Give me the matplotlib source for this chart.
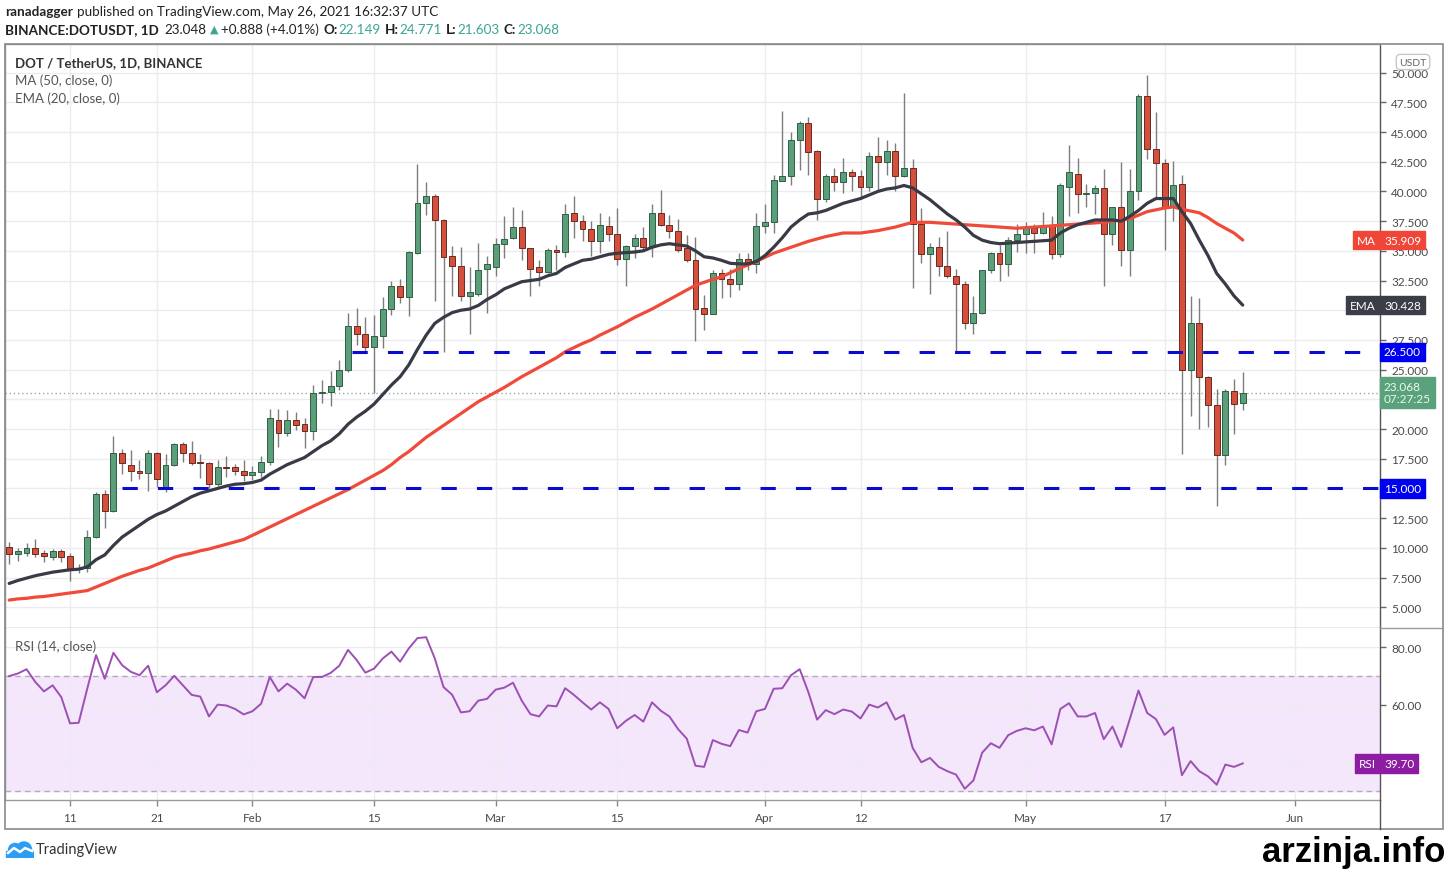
import numpy as np
import pandas as pd
import matplotlib
matplotlib.use("Agg")
import matplotlib.pyplot as plt
import matplotlib.dates as mdates
from matplotlib.patches import Rectangle, Circle
from matplotlib.lines import Line2D
from matplotlib.ticker import FuncFormatter, FixedLocator

plt.rcParams["font.family"] = ["Lato", "DejaVu Sans"]

W, H = 1448, 870

# ---- data (daily DOT/USDT, 2021-01-04 .. 2021-05-26) ----
open_ = [
    10.1, 9.5, 9.6, 10.0, 9.6, 9.2, 9.7, 9.3, 8.2, 8.3, 10.9, 14.5, 13.1, 18.0, 17.0, 16.5, 16.3, 18.0, 15.1, 17.0, 18.7, 18.0, 17.2, 17.1, 15.4, 16.8, 16.8, 16.5,
    16.1, 16.4, 17.2, 20.8, 19.7, 20.8, 20.4, 19.8, 23.0, 23.1, 23.6, 25.0, 28.7, 28.0, 26.9, 27.8, 30.1, 32.0, 31.1, 34.8, 39.0, 39.6, 37.6, 34.6, 33.7, 31.2, 31.4, 33.5,
    33.6, 35.6, 36.1, 37.0, 35.2, 33.6, 33.2, 35.1, 34.9, 38.2, 37.5, 36.8, 35.8, 37.1, 36.4, 34.3, 35.4, 36.1, 35.3, 38.2, 37.2, 36.7, 35.2, 34.2, 30.2, 29.7, 33.1, 32.6, 32.2, 34.3, 33.9,
    37.1, 37.4, 40.9, 41.3, 44.3, 45.8, 43.4, 39.4, 41.3, 40.8, 41.6, 41.3, 40.4, 43.0, 42.5, 43.4, 41.3, 42.0, 37.3, 34.7, 35.3, 33.7, 32.9, 32.2, 28.9, 29.8, 33.4, 34.8, 33.9, 35.9,
    36.4, 36.9, 36.5, 37.2, 34.7, 40.4, 41.5, 39.8, 39.9, 40.3, 36.4, 38.7, 35.1, 40.0, 48.0, 43.6, 42.4, 38.7, 40.6, 25.0, 28.9, 24.4, 22.0, 17.8, 23.2, 22.149,
]
high = [
    10.5, 10.0, 10.4, 10.7, 9.8, 9.9, 9.9, 9.6, 8.6, 11.5, 14.7, 14.9, 19.4, 18.3, 18.2, 17.4, 18.2, 18.1, 17.9, 18.8, 18.9, 19.0, 17.9, 17.2, 17.4, 17.7, 17.05, 17.4,
    16.9, 17.7, 21.7, 21.7, 21.6, 21.4, 20.9, 23.7, 24.1, 24.9, 25.8, 29.8, 30.2, 29.4, 29.6, 31.1, 32.5, 32.6, 35.0, 42.3, 40.8, 39.8, 37.7, 35.4, 35.3, 33.6, 35.7, 34.6,
    36.1, 37.9, 38.7, 38.4, 35.2, 34.2, 35.2, 35.5, 38.9, 39.6, 38.0, 37.5, 38.2, 37.9, 38.6, 35.5, 36.4, 37.0, 38.9, 40.1, 38.0, 37.7, 36.3, 36.2, 31.3, 33.4, 33.5, 33.5, 34.8, 34.8, 38.2,
    38.9, 41.4, 46.8, 45.0, 45.9, 46.3, 43.5, 41.5, 42.0, 42.8, 41.9, 41.8, 43.3, 44.6, 44.3, 44.1, 48.3, 42.7, 38.6, 35.7, 36.2, 36.7, 33.5, 32.5, 31.2, 33.4, 34.9, 35.5, 36.2, 37.3,
    37.4, 37.3, 38.3, 37.9, 40.7, 43.9, 42.8, 40.6, 40.5, 41.9, 38.7, 42.5, 41.9, 48.2, 49.8, 46.7, 42.7, 42.6, 41.4, 31.2, 31.0, 24.5, 23.4, 23.4, 24.2, 24.771,
]
low = [
    8.6, 8.9, 9.3, 9.2, 8.8, 9.0, 8.8, 7.2, 7.9, 8.0, 10.8, 11.7, 13.0, 16.2, 15.6, 15.8, 14.8, 15.1, 14.7, 16.9, 17.2, 17.0, 15.9, 15.0, 15.2, 16.0, 16.1, 15.6,
    15.7, 16.0, 17.0, 18.5, 19.4, 19.9, 18.4, 19.1, 22.2, 21.9, 23.3, 24.8, 27.1, 26.4, 23.0, 26.8, 29.6, 30.6, 29.5, 34.7, 38.0, 30.8, 26.5, 31.2, 30.8, 28.0, 31.2, 29.8,
    32.9, 34.4, 36.0, 34.2, 31.2, 32.0, 33.1, 33.4, 34.5, 36.1, 35.8, 34.6, 34.8, 35.8, 33.8, 32.0, 34.4, 35.1, 34.5, 37.1, 36.1, 34.9, 34.1, 27.4, 28.3, 29.7, 31.0, 31.1, 31.7, 33.4, 33.1,
    36.5, 36.5, 40.9, 40.5, 41.8, 41.4, 37.6, 39.1, 40.0, 39.9, 40.0, 39.4, 40.0, 40.1, 41.4, 40.0, 41.2, 31.9, 34.0, 31.4, 32.9, 32.7, 26.5, 28.4, 28.0, 29.7, 33.1, 32.5, 32.9, 34.9,
    34.8, 34.8, 36.4, 34.3, 34.5, 37.9, 38.2, 38.7, 38.1, 32.0, 35.5, 33.7, 32.9, 39.3, 42.7, 39.4, 35.1, 37.5, 17.9, 21.1, 20.0, 20.2, 13.5, 17.0, 19.6, 21.603,
]
close = [
    9.5, 9.7, 10.0, 9.5, 9.3, 9.7, 9.2, 8.2, 8.3, 10.9, 14.5, 13.1, 18.0, 17.1, 16.5, 16.3, 18.0, 15.8, 17.0, 18.7, 18.0, 17.1, 17.1, 15.4, 16.8, 16.7, 16.5, 16.1,
    16.4, 17.2, 20.9, 19.7, 20.8, 20.3, 19.8, 23.0, 23.1, 23.6, 25.0, 28.7, 28.0, 26.9, 27.8, 30.1, 32.0, 31.1, 34.9, 39.0, 39.6, 37.6, 34.5, 33.7, 31.2, 31.5, 33.4, 33.9,
    35.6, 36.0, 37.0, 35.2, 33.5, 33.2, 35.1, 34.9, 38.1, 37.5, 36.8, 35.8, 37.2, 36.4, 34.3, 35.4, 36.1, 35.3, 38.2, 37.2, 36.7, 35.1, 34.2, 30.1, 29.7, 33.1, 32.6, 32.2, 34.3, 33.9, 37.1,
    37.4, 41.0, 41.3, 44.3, 45.8, 43.3, 39.4, 41.3, 40.8, 41.6, 41.3, 40.4, 43.0, 42.5, 43.4, 41.3, 42.0, 37.3, 34.7, 35.3, 33.7, 32.9, 32.2, 28.9, 29.8, 33.4, 34.8, 33.9, 35.9, 36.4,
    36.9, 36.5, 37.2, 34.7, 40.5, 41.6, 39.8, 39.9, 40.3, 36.4, 38.7, 35.1, 40.0, 48.0, 43.6, 42.4, 38.7, 40.5, 25.0, 28.9, 24.4, 22.0, 17.8, 23.2, 22.1, 23.068,
]
ema20 = [
    7.0, 7.25, 7.45, 7.65, 7.8, 7.95, 8.05, 8.15, 8.2, 8.4, 9.0, 9.4, 10.2, 10.9, 11.4, 11.9, 12.4, 12.8, 13.1, 13.5, 13.9, 14.3, 14.6, 14.8, 15.0, 15.2, 15.35, 15.4,
    15.5, 15.7, 16.2, 16.6, 17.0, 17.3, 17.6, 18.1, 18.6, 19.0, 19.6, 20.4, 21.0, 21.5, 22.1, 22.9, 23.7, 24.4, 25.4, 26.7, 27.9, 28.9, 29.4, 29.8, 30.0, 30.1, 30.4, 30.9,
    31.3, 31.8, 32.1, 32.4, 32.5, 32.6, 32.9, 33.1, 33.6, 33.9, 34.2, 34.3, 34.5, 34.7, 34.8, 34.85, 34.9, 35.0, 35.3, 35.5, 35.6, 35.5, 35.4, 35.0, 34.5, 34.4, 34.2, 33.95, 33.9, 33.9, 34.1,
    34.6, 35.3, 36.1, 37.0, 37.6, 38.1, 38.2, 38.4, 38.7, 39.0, 39.2, 39.4, 39.7, 40.0, 40.2, 40.3, 40.5, 40.3, 39.8, 39.3, 38.7, 38.1, 37.6, 37.0, 36.3, 35.9, 35.7, 35.6, 35.65, 35.7,
    35.75, 35.8, 35.85, 35.9, 36.5, 36.9, 37.2, 37.4, 37.6, 37.6, 37.6, 37.5, 37.9, 38.4, 39.0, 39.4, 39.4, 39.4, 38.3, 37.3, 35.9, 34.6, 33.1, 32.2, 31.2, 30.428,
]
ma50 = [
    5.6, 5.7, 5.75, 5.85, 5.9, 6.0, 6.1, 6.2, 6.3, 6.4, 6.7, 7.0, 7.3, 7.6, 7.85, 8.1, 8.3, 8.6, 8.9, 9.2, 9.4, 9.55, 9.75, 9.9, 10.1, 10.3, 10.5, 10.7,
    11.05, 11.4, 11.75, 12.1, 12.45, 12.8, 13.15, 13.5, 13.85, 14.2, 14.55, 14.9, 15.3, 15.7, 16.1, 16.5, 17.0, 17.6, 18.1, 18.7, 19.3, 19.8, 20.3, 20.8, 21.3, 21.8, 22.3, 22.7,
    23.1, 23.5, 23.95, 24.4, 24.8, 25.2, 25.6, 26.0, 26.5, 26.85, 27.2, 27.5, 27.9, 28.25, 28.6, 29.0, 29.4, 29.75, 30.1, 30.5, 30.9, 31.3, 31.7, 32.1, 32.35, 32.6, 32.8, 33.15, 33.5, 33.8, 34.1,
    34.45, 34.8, 35.05, 35.3, 35.55, 35.8, 36.0, 36.2, 36.35, 36.5, 36.5, 36.5, 36.6, 36.7, 36.85, 37.0, 37.2, 37.4, 37.4, 37.4, 37.35, 37.3, 37.25, 37.2, 37.15, 37.1, 37.05, 37.0, 36.95, 36.9,
    36.95, 37.0, 37.05, 37.1, 37.15, 37.2, 37.25, 37.3, 37.35, 37.4, 37.5, 37.6, 37.7, 38.0, 38.3, 38.45, 38.6, 38.7, 38.5, 38.35, 38.2, 37.8, 37.3, 36.9, 36.5, 35.909,
]
rsi14 = [
    70.0, 70.9, 72.4, 68.0, 64.7, 66.8, 62.7, 53.6, 53.8, 65.8, 77.3, 69.1, 78.1, 73.8, 71.5, 70.3, 73.6, 64.4, 66.8, 70.1, 66.8, 63.5, 62.9, 56.0, 60.1, 59.8, 58.6, 56.7,
    57.8, 60.4, 69.7, 64.7, 67.4, 65.3, 62.3, 69.7, 69.7, 71.1, 73.6, 79.1, 75.6, 71.2, 72.6, 76.1, 78.5, 75.0, 79.6, 83.2, 83.5, 76.1, 66.2, 63.5, 57.4, 57.8, 61.5, 62.1,
    65.3, 66.0, 67.7, 61.5, 56.8, 56.0, 59.8, 59.5, 65.8, 63.5, 60.9, 58.4, 60.9, 58.6, 51.9, 54.5, 56.5, 54.2, 60.9, 58.0, 56.0, 51.6, 48.3, 38.9, 38.5, 47.8, 46.5, 45.7, 51.3, 50.4, 57.8,
    58.6, 65.6, 65.8, 70.3, 72.4, 64.4, 54.9, 58.2, 56.8, 58.4, 57.7, 55.3, 60.1, 59.1, 60.9, 54.9, 56.5, 45.1, 40.1, 41.6, 38.5, 37.0, 35.8, 30.9, 33.8, 43.4, 46.7, 45.1, 49.5, 51.0,
    51.9, 51.2, 52.5, 46.3, 58.6, 60.6, 56.0, 56.0, 57.2, 48.1, 52.5, 45.4, 55.1, 65.0, 57.2, 55.1, 49.6, 52.2, 35.6, 40.5, 37.0, 35.2, 32.3, 39.3, 38.5, 39.70,
]

levels = [26.5, 15.0]
level_start = ["2021-02-12 12:00", "2021-01-17"]
last_price = 23.068
countdown = "07:27:25"

tick_dates = ["2021-01-11", "2021-01-21", "2021-02-01", "2021-02-15", "2021-03-01", "2021-03-15",
              "2021-04-01", "2021-04-12", "2021-05-01", "2021-05-17", "2021-06-01"]
tick_labels = ["11", "21", "Feb", "15", "Mar", "15", "Apr", "12", "May", "17", "Jun"]
# price-scale labels that sit under a tag in the reference
hidden_price_labels = [15.0, 22.5, 30.0]
hidden_rsi_labels = [40]

# ---- colours ----
UP, DOWN = "#5b9f7a", "#d4503d"
UP_EDGE, DOWN_EDGE = "#2f5e45", "#6a2a20"
WICK = "#7d7d7d"
EMA_C, MA_C = "#383b45", "#f04a3a"
LEVEL_C = "#0a0ad0"
RSI_C = "#9c50b4"
GRID = "#ececf0"
TXT = "#4a4a4a"


def fbox(x0, y0, x1, y1):
    return [x0 / W, 1 - y1 / H, (x1 - x0) / W, (y1 - y0) / H]


fig = plt.figure(figsize=(W / 100, H / 100), dpi=100)
ax = fig.add_axes(fbox(5, 45, 1380, 629))
axr = fig.add_axes(fbox(5, 629, 1380, 801), sharex=ax)

o, h, l, c = map(np.asarray, (open_, high, low, close))
dates = pd.date_range("2021-01-04", periods=len(c), freq="D")
xd = mdates.date2num(dates)
up = c >= o

# candles
ax.vlines(xd, l, h, color=WICK, lw=1, zorder=2)
body_lo = np.minimum(o, c)
body_h = np.maximum(np.abs(c - o), 0.08)
ax.bar(xd, body_h, bottom=body_lo, width=0.68,
       color=np.where(up, UP, DOWN), edgecolor=np.where(up, UP_EDGE, DOWN_EDGE),
       linewidth=0.7, zorder=3)

ax.plot(xd, ma50, color=MA_C, lw=2.3, zorder=4, solid_capstyle="round")
ax.plot(xd, ema20, color=EMA_C, lw=2.3, zorder=4, solid_capstyle="round")

ax.axhline(last_price, color="#8fae9e", lw=1, ls=(0, (1, 2)), zorder=1)

x_left, x_right = xd[0] - 0.48, xd[0] + 157.8
for lev, start in zip(levels, level_start):
    s = mdates.date2num(pd.Timestamp(start))
    ax.plot([s, x_right], [lev, lev], color=LEVEL_C, lw=2.2, ls=(0, (5, 6.6)), zorder=5,
            dash_capstyle="butt")

ax.set_xlim(x_left, x_right)
ax.set_ylim(3.25, 52.41)

yt = np.arange(5, 50.01, 2.5)
ax.yaxis.tick_right()
ax.yaxis.set_major_locator(FixedLocator(yt))
ax.yaxis.set_major_formatter(FuncFormatter(
    lambda v, p: "" if any(abs(v - hv) < 1e-6 for hv in hidden_price_labels) else f"{v:.3f}"))
ax.tick_params(axis="y", direction="out", length=4, width=1, color="#666", labelsize=8.5,
               labelcolor=TXT, pad=4)
ax.tick_params(axis="x", length=0, labelbottom=False)
tick_x = mdates.date2num(pd.to_datetime(tick_dates))
ax.xaxis.set_major_locator(FixedLocator(tick_x))
ax.grid(True, color=GRID, lw=1)
ax.set_axisbelow(True)

# RSI panel
axr.axhspan(30, 70, color="#f4e6fb", zorder=0)
for lv in (70, 30):
    axr.axhline(lv, color="#b6a9bb", lw=1, ls=(0, (4, 3)), zorder=1)
axr.plot(xd, rsi14, color=RSI_C, lw=1.4, zorder=3)
axr.set_ylim(27.0, 86.7)
axr.yaxis.tick_right()
axr.yaxis.set_major_locator(FixedLocator([40, 60, 80]))
axr.yaxis.set_major_formatter(FuncFormatter(
    lambda v, p: "" if any(abs(v - hv) < 1e-6 for hv in hidden_rsi_labels) else f"{v:.2f}"))
axr.tick_params(axis="y", direction="out", length=4, width=1, color="#666", labelsize=8.5,
                labelcolor=TXT, pad=4)
axr.set_xticks(tick_x)
axr.set_xticklabels(tick_labels)
axr.tick_params(axis="x", direction="out", length=4, width=1, color="#888", labelsize=8.5,
                labelcolor=TXT, pad=5)
axr.grid(True, color=GRID, lw=1)
axr.set_axisbelow(True)

for a in (ax, axr):
    for side in ("left", "top", "bottom"):
        a.spines[side].set_color("#9a9a9a")
        a.spines[side].set_linewidth(1)
    a.spines["right"].set_color("#555")
    a.spines["right"].set_linewidth(1)
axr.spines["top"].set_visible(False)

# outer frame and extensions
fig.add_artist(Rectangle((5 / W, 1 - 830 / H), 1438 / W, 785 / H, transform=fig.transFigure,
                         fill=False, ec="#8a8a8a", lw=1.2))
fig.add_artist(Line2D([1380 / W, 1380 / W], [1 - 801 / H, 1 - 830 / H], transform=fig.transFigure,
                      color="#555", lw=1))
fig.add_artist(Line2D([1380 / W, 1443 / W], [1 - 629 / H, 1 - 629 / H], transform=fig.transFigure,
                      color="#9a9a9a", lw=1))


def tag(a, y, value, bg, name=None, fg="white"):
    kw = dict(xycoords=("axes fraction", "data"), textcoords="offset pixels", va="center",
              fontsize=8.5, color=fg, annotation_clip=False, zorder=20,
              bbox=dict(boxstyle="square,pad=0.32", fc=bg, ec=bg))
    a.annotate(value, xy=(1, y), xytext=(4, 0), ha="left", **kw)
    if name:
        a.annotate(name, xy=(1, y), xytext=(-4, 0), ha="right", **kw)


tag(ax, ma50[-1], f"{ma50[-1]:.3f}", "#ef4637", name="MA")
tag(ax, ema20[-1], f"{ema20[-1]:.3f}", "#3b3e48", name="EMA")
tag(ax, levels[0], f"{levels[0]:.3f}", "#0000f0")
tag(ax, levels[1], f"{levels[1]:.3f}", "#0000f0")
tag(ax, last_price, f"{last_price:.3f}\n{countdown}", "#5aa27b", fg="#eef8f2")
tag(axr, rsi14[-1], f"{rsi14[-1]:.2f}", "#8c1da2", name="RSI")

fig.text(1413 / W, 1 - 63 / H, "USDT", ha="center", va="center", fontsize=7.5, color="#666",
         bbox=dict(boxstyle="round,pad=0.3,rounding_size=0.4", fc="white", ec="#c8c8c8", lw=1),
         zorder=30)

# legends inside panels
fig.text(15 / W, 1 - 63 / H, "DOT / TetherUS, 1D, BINANCE", fontsize=9.5, color="#333",
         weight="bold", va="center")
fig.text(15 / W, 1 - 81 / H, "MA (50, close, 0)", fontsize=9.5, color="#555", va="center")
fig.text(15 / W, 1 - 99 / H, "EMA (20, close, 0)", fontsize=9.5, color="#555", va="center")
fig.text(15 / W, 1 - 647 / H, "RSI (14, close)", fontsize=9.5, color="#555", va="center")

# header
renderer = fig.canvas.get_renderer()


def text_run(x, y, s, **kw):
    style = dict(fontsize=9.7, va="center", ha="left")
    style.update(kw)
    t = fig.text(x / W, 1 - y / H, s, **style)
    return t.get_window_extent(renderer).x1


HEAD = "#222"
TEAL = "#3aa596"
x = text_run(5, 12, "ranadagger", weight="bold", color=HEAD)
text_run(x + 4, 12, "published on TradingView.com, May 26, 2021 16:32:37 UTC", color=HEAD)
x = text_run(5, 30, "BINANCE:DOTUSDT, 1D", weight="bold", color=HEAD)
x = text_run(x + 6, 30, "23.048", color=HEAD)
x = text_run(x + 3, 30, "\u25B2", color=TEAL, fontsize=8, family=["DejaVu Sans"])
x = text_run(x + 3, 30, "+0.888 (+4.01%)", color=HEAD)
for lab, val in (("O:", "22.149"), ("H:", "24.771"), ("L:", "21.603"), ("C:", "23.068")):
    x = text_run(x + 4, 30, lab, weight="bold", color=HEAD)
    x = text_run(x + 1, 30, val, color=TEAL)

# TradingView logo
lax = fig.add_axes(fbox(5, 841, 34, 859))
lax.set_xlim(0, 29)
lax.set_ylim(0, 18)
lax.axis("off")
lax.add_patch(Circle((10, 8), 6.5, color="#2a9df4"))
lax.add_patch(Circle((19, 8.5), 7.5, color="#2a9df4"))
lax.add_patch(Rectangle((1, 1.5), 27, 6, color="#2a9df4"))
lax.plot([3, 9, 15, 20, 27], [5, 10, 6, 10, 7], color="white", lw=1.8)
fig.text(36 / W, 1 - 850 / H, "TradingView", fontsize=10.5, color="#333", va="center")

fig.text(1445 / W, 1 - 853 / H, "arzinja.info", ha="right", va="center", fontsize=25,
         weight="bold", color="black", family=["Liberation Sans Narrow", "Liberation Sans"])

fig.savefig("out.png", dpi=100, facecolor="white")
